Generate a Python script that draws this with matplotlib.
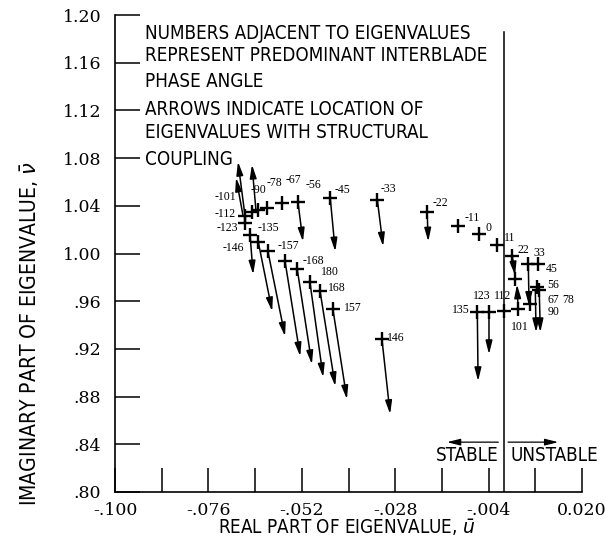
"""Eigenvalue map: real vs imaginary part, interblade phase angle labels,
arrows to the structurally coupled eigenvalues."""
import matplotlib
matplotlib.use("Agg")
import matplotlib.pyplot as plt
from matplotlib import font_manager

SERIF = ["Liberation Serif", "DejaVu Serif"]
TICKF = ["DejaVu Serif"]

# a condensed sans if the system has one, else Liberation Sans
cond = [f for f in font_manager.fontManager.ttflist
        if "condensed" in str(f.stretch).lower() or "Narrow" in f.name
        or "Condensed" in f.name]
SANS_NAME = cond[0].name if cond else "Liberation Sans"

# eigenvalues without structural coupling (crosses)
cross_u = [-0.0666, -0.0648, -0.0632, -0.0609, -0.0571, -0.0530, -0.0447,
           -0.0326, -0.0198, -0.0118, -0.0064, -0.0018,
           -0.0666, -0.0653, -0.0632, -0.0607, -0.0563, -0.0532, -0.0499,
           -0.0473, -0.0440, -0.0314,
           0.0021, 0.0062, 0.0087, 0.0028, 0.0085, 0.0090, 0.0067, 0.0036,
           0.0000, -0.0039, -0.0069]
cross_v = [1.0318, 1.0351, 1.0368, 1.0385, 1.0427, 1.0435, 1.0469,
           1.0452, 1.0351, 1.0234, 1.0167, 1.0075,
           1.0259, 1.0159, 1.0100, 1.0017, 0.9933, 0.9874, 0.9757,
           0.9682, 0.9531, 0.9280,
           0.9975, 0.9916, 0.9916, 0.9782, 0.9715, 0.9690, 0.9573, 0.9531,
           0.9515, 0.9506, 0.9506]

# arrows: uncoupled -> coupled location
arr_u0 = [-0.0666, -0.0671, -0.0638, -0.0530, -0.0447, -0.0326, -0.0198,
          -0.0653, -0.0632, -0.0607, -0.0563, -0.0532, -0.0499, -0.0473,
          -0.0440, -0.0314,
          0.0021, 0.0036, 0.0080, 0.0090, 0.0062, -0.0069, -0.0039]
arr_v0 = [1.0318, 1.0318, 1.0368, 1.0435, 1.0469, 1.0452, 1.0351,
          1.0159, 1.0100, 1.0017, 0.9933, 0.9874, 0.9757, 0.9682,
          0.9531, 0.9280,
          0.9975, 0.9531, 0.9699, 0.9699, 0.9916, 0.9506, 0.9506]
arr_u1 = [-0.0684, -0.0689, -0.0648, -0.0517, -0.0434, -0.0311, -0.0195,
          -0.0645, -0.0596, -0.0563, -0.0524, -0.0494, -0.0465, -0.0434,
          -0.0404, -0.0293,
          0.0028, 0.0033, 0.0082, 0.0093, 0.0064, -0.0067, -0.0039]
arr_v1 = [1.0770, 1.0636, 1.0745, 1.0100, 1.0017, 1.0059, 1.0100,
          0.9824, 0.9515, 0.9305, 0.9138, 0.9071, 0.8962, 0.8887,
          0.8778, 0.8653,
          0.9816, 0.9741, 0.9339, 0.9339, 0.9560, 0.8929, 0.9155]

# interblade phase angle labels
lab_txt = ["-101", "-112", "-123", "-135", "-146", "-157", "-90", "-78",
           "-67", "-56", "-45", "-33", "-22", "-11", "0", "11", "22", "33",
           "45", "56", "67", "78", "90", "101", "112", "123", "135",
           "-168", "180", "168", "157", "146"]
lab_u = [-0.0717, -0.0717, -0.0712, -0.0607, -0.0697, -0.0555, -0.0632,
         -0.0591, -0.0542, -0.0491, -0.0416, -0.0298, -0.0165, -0.0082,
         -0.0041, 0.0013, 0.0049, 0.0090, 0.0121, 0.0126, 0.0126, 0.0164,
         0.0126, 0.0041, -0.0005, -0.0057, -0.0111,
         -0.0491, -0.0447, -0.0429, -0.0388, -0.0278]
lab_v = [1.0477, 1.0335, 1.0218, 1.0218, 1.0050, 1.0067, 1.0536, 1.0594,
         1.0619, 1.0577, 1.0536, 1.0544, 1.0427, 1.0301, 1.0218, 1.0134,
         1.0033, 1.0008, 0.9866, 0.9732, 0.9607, 0.9607, 0.9506, 0.9381,
         0.9640, 0.9640, 0.9523,
         0.9941, 0.9841, 0.9707, 0.9540, 0.9290]

note_lines = ["NUMBERS ADJACENT TO EIGENVALUES",
              "REPRESENT PREDOMINANT INTERBLADE",
              "PHASE ANGLE",
              "ARROWS INDICATE LOCATION OF",
              "EIGENVALUES WITH STRUCTURAL",
              "COUPLING"]
note_v = [1.1849, 1.1657, 1.1439, 1.1205, 1.1013, 1.0787]

yticks = [0.80, 0.84, 0.88, 0.92, 0.96, 1.00, 1.04, 1.08, 1.12, 1.16, 1.20]
ytick_lab = [".80", ".84", ".88", ".92", ".96", "1.00", "1.04", "1.08",
             "1.12", "1.16", "1.20"]
xticks = [-0.100, -0.088, -0.076, -0.064, -0.052, -0.040, -0.028, -0.016,
          -0.004, 0.008, 0.020]
xtick_lab = ["-.100", "", "-.076", "", "-.052", "", "-.028", "", "-.004",
             "", "0.020"]

SANS = dict(family=[SANS_NAME, "DejaVu Sans"], stretch="condensed")
TXT = 13.5 if cond else 12

fig = plt.figure(figsize=(6.06, 5.41), dpi=100)
ax = fig.add_axes([115 / 606, 1 - 492 / 541, 467 / 606, 477 / 541])
ax.set_xlim(-0.100, 0.020)
ax.set_ylim(0.80, 1.20)
for s in ("top", "right"):
    ax.spines[s].set_visible(False)
for s in ("left", "bottom"):
    ax.spines[s].set_linewidth(1.2)

ax.set_xticks(xticks, xtick_lab, fontfamily=TICKF, fontsize=12.5)
ax.set_yticks(yticks, ytick_lab, fontfamily=TICKF, fontsize=12.5)
ax.tick_params(axis="x", direction="in", length=17, width=1.1, pad=7)
ax.tick_params(axis="y", direction="in", length=18, width=1.1, pad=10)

# stability boundary
ax.plot([0.0, 0.0], [0.80, 1.186], color="k", lw=1.1)

ax.plot(cross_u, cross_v, ls="none", marker="+", ms=10, mew=1.7, color="k")

for u0, v0, u1, v1 in zip(arr_u0, arr_v0, arr_u1, arr_v1):
    ax.annotate("", xy=(u1, v1), xytext=(u0, v0),
                arrowprops=dict(arrowstyle="-|>,head_length=0.8,head_width=0.2",
                                lw=1.1, color="k", shrinkA=0, shrinkB=0))

for t, u, v in zip(lab_txt, lab_u, lab_v):
    ax.text(u, v, t, fontsize=8.5, family=SERIF, ha="center", va="center")

for line, v in zip(note_lines, note_v):
    ax.text(-0.0923, v, line, fontsize=TXT, ha="left", va="center", **SANS)

ax.text(-0.0015, 0.831, "STABLE", fontsize=TXT, ha="right", va="center",
        **SANS)
ax.text(0.0015, 0.831, "UNSTABLE", fontsize=TXT, ha="left", va="center",
        **SANS)
ax.annotate("", xy=(-0.0147, 0.8418), xytext=(-0.0015, 0.8418),
            arrowprops=dict(arrowstyle="-|>,head_length=0.8,head_width=0.2",
                            lw=0.9, color="k", shrinkA=0, shrinkB=0))
ax.annotate("", xy=(0.0139, 0.8418), xytext=(0.0010, 0.8418),
            arrowprops=dict(arrowstyle="-|>,head_length=0.8,head_width=0.2",
                            lw=0.9, color="k", shrinkA=0, shrinkB=0))

fig.text(30 / 606, 1 - 334 / 541, r"IMAGINARY PART OF EIGENVALUE, $\bar{\nu}$",
         rotation=90, ha="center", va="center", fontsize=TXT * 1.12, **SANS)
fig.text(347 / 606, 1 - 528 / 541, r"REAL PART OF EIGENVALUE, $\bar{u}$",
         ha="center", va="center", fontsize=TXT, **SANS)

fig.savefig("out.png", dpi=100)
